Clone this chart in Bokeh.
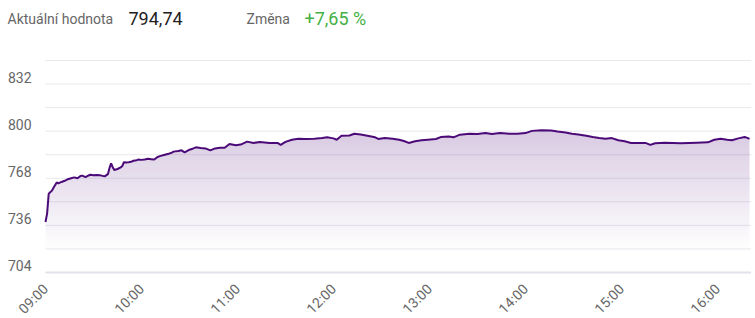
import pandas as pd
from bokeh.plotting import figure
from bokeh.models import Range1d
from bokeh.core.properties import value
from bokeh.embed import file_html
from bokeh.resources import INLINE
from math import pi

# ---- data ----
times = ["09:00", "09:01", "09:02", "09:04", "09:05", "09:07", "09:08", "09:10", "09:12", "09:14",
         "09:16", "09:18", "09:20", "09:22", "09:23", "09:25", "09:27", "09:28", "09:30", "09:32",
         "09:34", "09:35", "09:37", "09:39", "09:40", "09:41", "09:42", "09:43", "09:45", "09:47",
         "09:48", "09:49", "09:51", "09:52", "09:54", "09:55", "09:57", "09:58", "10:00", "10:02",
         "10:04", "10:06", "10:08", "10:10", "10:12", "10:14", "10:17", "10:19", "10:20", "10:23",
         "10:25", "10:27", "10:30", "10:32", "10:34", "10:37", "10:40", "10:43", "10:46", "10:49",
         "10:52", "10:55", "10:59", "11:02", "11:06", "11:10", "11:14", "11:20", "11:25", "11:27",
         "11:30", "11:34", "11:38", "11:43", "11:48", "11:53", "11:56", "12:00", "12:02", "12:05",
         "12:10", "12:13", "12:17", "12:22", "12:26", "12:28", "12:32", "12:37", "12:41", "12:44",
         "12:47", "12:51", "12:55", "12:59", "13:04", "13:07", "13:12", "13:15", "13:19", "13:25",
         "13:30", "13:35", "13:39", "13:44", "13:50", "13:55", "14:00", "14:04", "14:10", "14:16",
         "14:20", "14:25", "14:29", "14:33", "14:38", "14:42", "14:46", "14:50", "14:54", "14:58",
         "15:02", "15:06", "15:10", "15:15", "15:18", "15:21", "15:27", "15:32", "15:37", "15:42",
         "15:47", "15:54", "15:58", "16:02", "16:06", "16:09", "16:13", "16:17", "16:19", "16:20"]
values = [738.3, 744.0, 757.5, 759.6, 761.5, 765.2, 764.5, 765.5, 766.3, 767.4,
          768.0, 768.6, 768.0, 769.6, 769.8, 768.8, 769.9, 770.4, 770.0, 770.3,
          770.0, 769.8, 769.3, 770.8, 775.0, 778.2, 775.5, 773.6, 774.3, 775.4,
          776.3, 778.9, 778.8, 778.9, 779.4, 779.9, 780.3, 780.7, 780.5, 780.8,
          781.3, 781.0, 780.7, 782.5, 783.2, 783.8, 784.7, 785.4, 786.1, 786.5,
          787.0, 785.6, 787.4, 788.1, 789.0, 788.6, 788.3, 787.0, 788.3, 788.8,
          788.7, 791.3, 790.4, 790.9, 792.9, 792.0, 792.7, 792.0, 792.0, 790.7,
          792.7, 794.2, 794.9, 794.7, 794.9, 795.3, 795.8, 795.1, 794.2, 796.9,
          797.1, 798.2, 797.8, 796.7, 795.8, 794.7, 795.3, 794.9, 794.2, 793.3,
          792.0, 793.1, 793.8, 794.2, 794.7, 796.0, 796.4, 795.8, 797.6, 798.2,
          798.0, 798.7, 798.0, 798.7, 798.2, 798.2, 798.7, 800.2, 800.7, 800.4,
          799.8, 799.1, 798.2, 797.8, 796.9, 796.0, 795.3, 794.9, 795.3, 793.8,
          793.1, 792.0, 792.0, 792.0, 790.7, 791.8, 792.2, 792.0, 791.8, 792.0,
          792.2, 792.4, 794.2, 794.9, 794.2, 793.8, 795.1, 796.0, 795.3, 794.74]
x_ticks = ["09:00", "10:00", "11:00", "12:00", "13:00", "14:00", "15:00", "16:00"]
y_labels = [704, 736, 768, 800, 832]
y_grid = [704, 720, 736, 752, 768, 784, 800, 816, 832, 848]
header_label_1 = "Aktuální hodnota"
header_value_1 = "794,74"
header_label_2 = "Změna"
header_value_2 = "+7,65 %"

# ---- layout constants ----
DAY = "2024-01-02 "
T0 = pd.Timestamp(DAY + "09:00")
T_END = pd.Timestamp(DAY + "16:21")
PX_PER_MIN = 1.6          # 96 px per hour
X0_PX = 45                # pixel where 09:00 sits
FRAME_W = 751
FRAME_H = 318
Y_BOTTOM_PX = 272         # pixel where 704 sits
PX_PER_UNIT = 212 / 144   # 704..848 spans 212 px

def xpx(px):
    return T0 + pd.Timedelta(minutes=(px - X0_PX) / PX_PER_MIN)

def ypx(py):
    return y_grid[0] + (Y_BOTTOM_PX - py) / PX_PER_UNIT

FONT = value("Roboto")
LINE = "#4b0a78"
GRAY = "#666666"

xs = pd.to_datetime([DAY + t for t in times])
tick_times = pd.to_datetime([DAY + t for t in x_ticks])

p = figure(width=755, height=318, x_axis_type="datetime",
           x_axis_location=None, y_axis_location=None,
           x_range=Range1d(xpx(0), xpx(FRAME_W)),
           y_range=Range1d(ypx(FRAME_H), ypx(0)),
           output_backend="svg", toolbar_location=None,
           min_border_left=0, min_border_right=755 - FRAME_W,
           min_border_top=0, min_border_bottom=0)
p.outline_line_color = None
p.background_fill_color = "white"
p.border_fill_color = "white"
p.grid.visible = False

# horizontal grid lines over the plotting span
n_grid = len(y_grid)
p.segment(x0=[T0] * n_grid, x1=[T_END] * n_grid, y0=y_grid, y1=y_grid,
          line_color="#e8e8ee", line_width=1)
# x axis base line
p.segment(x0=[T0], x1=[T_END], y0=[y_grid[0]], y1=[y_grid[0]],
          line_color="#e2e2ec", line_width=2)

# y axis labels (sit a little above their grid lines)
p.text(x=[xpx(31)] * len(y_labels), y=[v + 6.6 / PX_PER_UNIT for v in y_labels],
       text=[str(v) for v in y_labels], text_font=FONT, text_font_size="14px",
       text_color=GRAY, text_align="right", text_baseline="middle")

# x axis labels, rotated 45 degrees, ending at their tick
p.text(x=tick_times, y=[ypx(286)] * len(x_ticks), text=x_ticks, angle=pi / 4,
       text_font=FONT, text_font_size="14px", text_color=GRAY,
       text_align="right", text_baseline="middle")

# gradient-like area fill: non-overlapping horizontal bands with rising opacity
lo, hi, step, top_alpha = 718, 802, 2, 0.22
n = int((hi - lo) / step)
for k in range(n):
    a = lo + k * step
    b = a + step
    y1 = [min(a, v) for v in values]
    y2 = [min(b, v) for v in values]
    alpha = top_alpha * (a + step / 2 - lo) / (hi - lo)
    p.varea(x=xs, y1=y1, y2=y2, fill_color=LINE, fill_alpha=alpha)

p.line(xs, values, line_color=LINE, line_width=2)

# header
hy = ypx(18)
p.text(x=[xpx(7)], y=[hy], text=[header_label_1], text_font=FONT, text_font_size="14px",
       text_color=GRAY, text_baseline="alphabetic")
p.text(x=[xpx(128)], y=[hy], text=[header_value_1], text_font=FONT, text_font_size="18px",
       text_color="#222222", text_baseline="alphabetic")
p.text(x=[xpx(246)], y=[hy], text=[header_label_2], text_font=FONT, text_font_size="14px",
       text_color=GRAY, text_baseline="alphabetic")
p.text(x=[xpx(304)], y=[hy], text=[header_value_2], text_font=FONT, text_font_size="18px",
       text_color="#43b043", text_baseline="alphabetic")

open("out.html", "w").write(file_html(p, INLINE))
